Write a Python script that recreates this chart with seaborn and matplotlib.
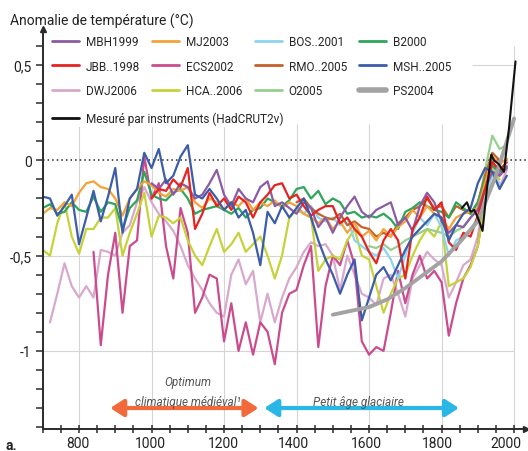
import numpy as np
import pandas as pd
import matplotlib
matplotlib.use('Agg')
import matplotlib.pyplot as plt
from matplotlib.lines import Line2D
from matplotlib.transforms import ScaledTranslation
import seaborn as sns

# Reconstructions: temperature anomaly (°C), one value every 20 years
STEP = 20

mbh1999_start = 1000
mbh1999 = [-0.12, -0.15, -0.10, -0.18, -0.12, -0.14, -0.20, -0.18, -0.12, -0.05,
           -0.18, -0.24, -0.15, -0.20, -0.22, -0.14, -0.11, -0.24, -0.22, -0.25,
           -0.28, -0.22, -0.25, -0.35, -0.30, -0.38, -0.30, -0.24, -0.19, -0.27,
           -0.30, -0.26, -0.24, -0.22, -0.34, -0.30, -0.37, -0.24, -0.17, -0.22,
           -0.32, -0.38, -0.34, -0.35, -0.30, -0.26, -0.15, -0.06, -0.08, -0.03]

mj2003_start = 700
mj2003 = [-0.28, -0.25, -0.26, -0.22, -0.24, -0.17, -0.12, -0.11, -0.14, -0.15,
          -0.20, -0.29, -0.20, -0.15, -0.11, -0.13, -0.17, -0.19, -0.15, -0.16,
          -0.14, -0.22, -0.25, -0.20, -0.22, -0.26, -0.22, -0.24, -0.20, -0.26,
          -0.22, -0.24, -0.21, -0.25, -0.22, -0.24, -0.28, -0.30, -0.33, -0.30,
          -0.36, -0.32, -0.38, -0.33, -0.40, -0.37, -0.42, -0.36, -0.40, -0.35,
          -0.32, -0.26, -0.30, -0.24, -0.28, -0.30, -0.36, -0.30, -0.28, -0.27,
          -0.25, -0.12, 0.02, -0.02, 0.01]

bos2001_start = 1400
bos2001 = [-0.25, -0.28, -0.24, -0.30, -0.32, -0.30, -0.34, -0.30, -0.42, -0.45,
           -0.48, -0.50, -0.46, -0.52, -0.62, -0.50, -0.38, -0.30, -0.34, -0.28,
           -0.35, -0.50, -0.42, -0.40, -0.36, -0.30, -0.18, -0.08, -0.12]

b2000_start = 700
b2000 = [-0.25, -0.23, -0.28, -0.27, -0.22, -0.26, -0.27, -0.19, -0.27, -0.22,
         -0.23, -0.36, -0.25, -0.21, -0.06, -0.18, -0.20, -0.21, -0.17, -0.15,
         -0.20, -0.28, -0.26, -0.25, -0.24, -0.26, -0.28, -0.25, -0.30, -0.26,
         -0.25, -0.20, -0.22, -0.24, -0.21, -0.15, -0.14, -0.20, -0.16, -0.23,
         -0.20, -0.22, -0.28, -0.27, -0.30, -0.29, -0.30, -0.28, -0.31, -0.36,
         -0.27, -0.25, -0.22, -0.24, -0.26, -0.27, -0.30, -0.22, -0.25, -0.28,
         -0.22, -0.10, -0.03, -0.06, -0.04]

jbb1998_start = 1000
jbb1998 = [-0.20, -0.15, -0.16, -0.10, -0.14, -0.04, -0.36, -0.28, -0.17, -0.24,
           -0.20, -0.26, -0.19, -0.22, -0.30, -0.22, -0.18, -0.13, -0.12, -0.20,
           -0.18, -0.24, -0.29, -0.26, -0.24, -0.24, -0.33, -0.30, -0.36, -0.40,
           -0.48, -0.54, -0.42, -0.36, -0.42, -0.62, -0.36, -0.30, -0.19, -0.26,
           -0.22, -0.43, -0.47, -0.38, -0.40, -0.29, -0.15, -0.01, -0.05, -0.01]

ecs2002_start = 840
ecs2002 = [-0.48, -0.97, -0.60, -0.38, -0.80, -0.45, -0.42, 0.02, -0.20, -0.12,
           -0.45, -0.62, -0.25, -0.38, -0.80, -0.72, -0.60, -0.62, -0.95, -0.75,
           -1.00, -0.85, -1.02, -0.85, -0.90, -1.07, -0.80, -0.70, -0.68, -0.55,
           -0.45, -0.98, -0.66, -0.50, -0.55, -0.42, -0.55, -0.95, -1.02, -0.98,
           -1.00, -0.80, -0.58, -0.75, -0.60, -0.50, -0.62, -0.58, -0.64, -0.92,
           -0.75, -0.62, -0.55, -0.45, -0.20, 0.00, -0.08, -0.04]

rmo2005_start = 1400
rmo2005 = [-0.22, -0.20, -0.25, -0.28, -0.30, -0.31, -0.28, -0.34, -0.32, -0.35,
           -0.36, -0.40, -0.38, -0.40, -0.33, -0.30, -0.26, -0.24, -0.20, -0.25,
           -0.24, -0.30, -0.24, -0.26, -0.28, -0.22, -0.08, 0.04, 0.00]

msh2005_start = 700
msh2005 = [-0.19, -0.20, -0.29, -0.24, -0.18, -0.44, -0.30, -0.16, -0.32, -0.19,
           -0.04, -0.38, -0.20, -0.15, 0.04, -0.04, 0.06, -0.12, -0.08, 0.02,
           0.08, -0.18, -0.20, -0.15, -0.20, -0.26, -0.22, -0.30, -0.26, -0.38,
           -0.55, -0.27, -0.33, -0.24, -0.30, -0.25, -0.20, -0.30, -0.42, -0.52,
           -0.60, -0.70, -0.60, -0.52, -0.84, -0.72, -0.60, -0.56, -0.63, -0.55,
           -0.47, -0.40, -0.36, -0.32, -0.28, -0.30, -0.42, -0.34, -0.28, -0.25,
           -0.12, -0.04, -0.06, -0.15, -0.08]

dwj2006_start = 720
dwj2006 = [-0.85, -0.70, -0.54, -0.66, -0.72, -0.66, -0.72, -0.47, -0.48, -0.50,
           -0.38, -0.34, -0.22, -0.14, -0.22, -0.28, -0.32, -0.37, -0.45, -0.55,
           -0.62, -0.68, -0.75, -0.80, -0.82, -0.60, -0.52, -0.65, -0.58, -0.85,
           -0.70, -0.85, -0.72, -0.62, -0.56, -0.48, -0.43, -0.45, -0.44, -0.50,
           -0.68, -0.50, -0.60, -0.70, -0.72, -0.76, -0.62, -0.60, -0.70, -0.82,
           -0.62, -0.55, -0.48, -0.52, -0.55, -0.72, -0.64, -0.55, -0.52, -0.40,
           -0.15, -0.02, -0.14, -0.05]

hca2006_start = 700
hca2006 = [-0.47, -0.50, -0.33, -0.22, -0.40, -0.49, -0.36, -0.36, -0.30, -0.30,
           -0.25, -0.50, -0.38, -0.28, -0.17, -0.40, -0.29, -0.30, -0.33, -0.30,
           -0.42, -0.50, -0.55, -0.45, -0.36, -0.48, -0.44, -0.38, -0.48, -0.44,
           -0.40, -0.50, -0.62, -0.50, -0.30, -0.26, -0.28, -0.30, -0.58, -0.52,
           -0.50, -0.52, -0.42, -0.36, -0.50, -0.52, -0.66, -0.80, -0.70, -0.62,
           -0.60, -0.50, -0.42, -0.36, -0.40, -0.32, -0.66, -0.64, -0.62, -0.56,
           -0.45, -0.22, -0.05, -0.10]

o2005_start = 1600
o2005 = [-0.45, -0.46, -0.44, -0.47, -0.45, -0.42, -0.40, -0.38, -0.36, -0.37,
         -0.38, -0.40, -0.37, -0.35, -0.30, -0.25, -0.05, 0.13, 0.06, 0.08]

ps2004_years = [1500, 1550, 1600, 1650, 1700, 1750, 1800, 1850, 1900, 1950, 2000]
ps2004 = [-0.81, -0.79, -0.77, -0.73, -0.67, -0.60, -0.53, -0.43, -0.32, -0.08, 0.22]

hadcrut_years = [1856, 1870, 1880, 1890, 1900, 1913, 1925, 1937, 1945, 1958, 1972, 1986, 2004]
hadcrut = [-0.25, -0.22, -0.27, -0.26, -0.30, -0.37, -0.15, 0.03, 0.00, -0.02, -0.06, 0.17, 0.52]

# label, start year, values, colour
recons = {
    'MBH1999': (mbh1999_start, mbh1999, '#8C5BA6'),
    'MJ2003': (mj2003_start, mj2003, '#F4A23A'),
    'BOS..2001': (bos2001_start, bos2001, '#8DD4F0'),
    'B2000': (b2000_start, b2000, '#2EA659'),
    'JBB..1998': (jbb1998_start, jbb1998, '#E52421'),
    'ECS2002': (ecs2002_start, ecs2002, '#CB4C8E'),
    'RMO..2005': (rmo2005_start, rmo2005, '#C4612B'),
    'MSH..2005': (msh2005_start, msh2005, '#3C5DA8'),
    'DWJ2006': (dwj2006_start, dwj2006, '#D8A9CD'),
    'HCA..2006': (hca2006_start, hca2006, '#C6D23A'),
    'O2005': (o2005_start, o2005, '#96D08F'),
}
ps_color = '#A3A3A3'
had_color = '#111111'

sns.set_style('ticks')
plt.rcParams['font.family'] = ['Roboto', 'DejaVu Sans']
plt.rcParams['lines.solid_joinstyle'] = 'round'

fig = plt.figure(figsize=(5.28, 4.52), dpi=100)
ax = fig.add_axes([0.081, 0.0487, 0.9146, 0.885])

# background grid (kept clear of the legend block)
grid_c = '#D5D5D5'
ax.vlines([800, 1000, 1200, 1400, 1600, 1800], -1.41, 0.19, color=grid_c, lw=0.8, zorder=0)
ax.vlines(2000, -1.41, 0.6, color=grid_c, lw=0.8, zorder=0)
ax.hlines([-0.5, -1.0], 700, 2000, color=grid_c, lw=0.8, zorder=0)
ax.hlines(0.5, 1884, 2000, color=grid_c, lw=0.8, zorder=0)
ax.axhline(0, color='#222222', ls=(0, (1, 2)), lw=1.1, zorder=1)

draw_order = ['DWJ2006', 'ECS2002', 'HCA..2006', 'O2005', 'BOS..2001', 'RMO..2005',
              'B2000', 'MJ2003', 'MBH1999', 'JBB..1998', 'MSH..2005']
for name in draw_order:
    start, vals, color = recons[name]
    df = pd.DataFrame({'year': start + STEP * np.arange(len(vals)), 'anomaly': vals})
    sns.lineplot(data=df, x='year', y='anomaly', color=color, linewidth=1.6,
                 estimator=None, ax=ax)

sns.lineplot(x=ps2004_years, y=ps2004, color=ps_color, linewidth=2.8, estimator=None, ax=ax)
sns.lineplot(x=hadcrut_years, y=hadcrut, color=had_color, linewidth=1.5, estimator=None, ax=ax)

ax.set_xlim(700, 2032)
ax.set_ylim(-1.41, 0.69)
ax.set_xlabel('')
ax.set_ylabel('')

# axes: only left/bottom with arrow heads
for side in ['top', 'right']:
    ax.spines[side].set_visible(False)
for side in ['left', 'bottom']:
    ax.spines[side].set_color('#2B2B2B')
    ax.spines[side].set_linewidth(1.4)
ax.plot(1, 0, '>', color='#2B2B2B', ms=5, transform=ax.transAxes, clip_on=False)
ax.plot(0, 1, '^', color='#2B2B2B', ms=5, transform=ax.transAxes, clip_on=False)

ax.set_xticks(range(800, 2001, 200))
ax.set_xticks(range(700, 2001, 50), minor=True)
ax.set_yticks([-1, -0.5, 0, 0.5])
ax.set_yticklabels(['-1', '-0,5', '0', '0,5'])
ax.set_yticks(np.round(np.arange(-1.4, 0.65, 0.1), 1), minor=True)
ax.tick_params(axis='x', which='both', direction='inout', length=6, width=1.1,
               color='#2B2B2B', labelsize=10, labelcolor='#222222', pad=2)
ax.tick_params(axis='y', which='both', direction='out', length=5, width=1.1,
               color='#2B2B2B', labelsize=10, labelcolor='#222222', pad=3)

# legend: 4 columns x 3 rows, then the instrumental record on its own row
leg_order = ['MBH1999', 'JBB..1998', 'DWJ2006', 'MJ2003', 'ECS2002', 'HCA..2006',
             'BOS..2001', 'RMO..2005', 'O2005', 'B2000', 'MSH..2005', 'PS2004']
handles = []
for name in leg_order:
    if name == 'PS2004':
        handles.append(Line2D([], [], color=ps_color, lw=4))
    else:
        handles.append(Line2D([], [], color=recons[name][2], lw=2))
leg_kw = dict(loc='upper left', fontsize=8.5, handlelength=2.3, handletextpad=0.6,
              borderpad=0.2, borderaxespad=0, framealpha=1, fancybox=False)
leg1 = ax.legend(handles, leg_order, ncol=4, columnspacing=1.0, labelspacing=0.95,
                 bbox_to_anchor=(0.014, 0.99), **leg_kw)
leg1.get_frame().set_edgecolor('none')
ax.add_artist(leg1)
leg2 = ax.legend([Line2D([], [], color=had_color, lw=2)],
                 ['Mesuré par instruments (HadCRUT2v)'],
                 bbox_to_anchor=(0.014, 0.80), **leg_kw)
leg2.get_frame().set_edgecolor('none')

# periods
ax.annotate('', xy=(886, -1.30), xytext=(1295, -1.30),
            arrowprops=dict(arrowstyle='<|-|>,head_length=0.5,head_width=0.32',
                            color='#F26A3B', lw=3, mutation_scale=16, shrinkA=0, shrinkB=0))
ax.annotate('', xy=(1311, -1.30), xytext=(1848, -1.30),
            arrowprops=dict(arrowstyle='<|-|>,head_length=0.5,head_width=0.32',
                            color='#2BB7E6', lw=3, mutation_scale=16, shrinkA=0, shrinkB=0))
txt_kw = dict(ha='center', va='center', style='italic', color='#555555', fontsize=8.5)
ax.text(1099, -1.16, 'Optimum', **txt_kw)
ax.text(1099, -1.265, 'climatique médiéval¹', **txt_kw)
ax.text(1571, -1.265, 'Petit âge glaciaire', **txt_kw)

fig.text(10 / 528, 1 - 26 / 452, 'Anomalie de température (°C)', ha='left', va='baseline',
         fontsize=10, color='#222222')
fig.text(5 / 528, 0.004, 'a.', ha='left', va='baseline', fontsize=10,
         fontweight='bold', color='#222222')

# year labels sit slightly left of their ticks, the last one most
for lab, dx in zip(ax.get_xticklabels(), [-1, -1, -1, -3, -3, -4, -8]):
    lab.set_transform(lab.get_transform() + ScaledTranslation(dx / 100, 0, fig.dpi_scale_trans))

fig.savefig('out.png', dpi=100)
